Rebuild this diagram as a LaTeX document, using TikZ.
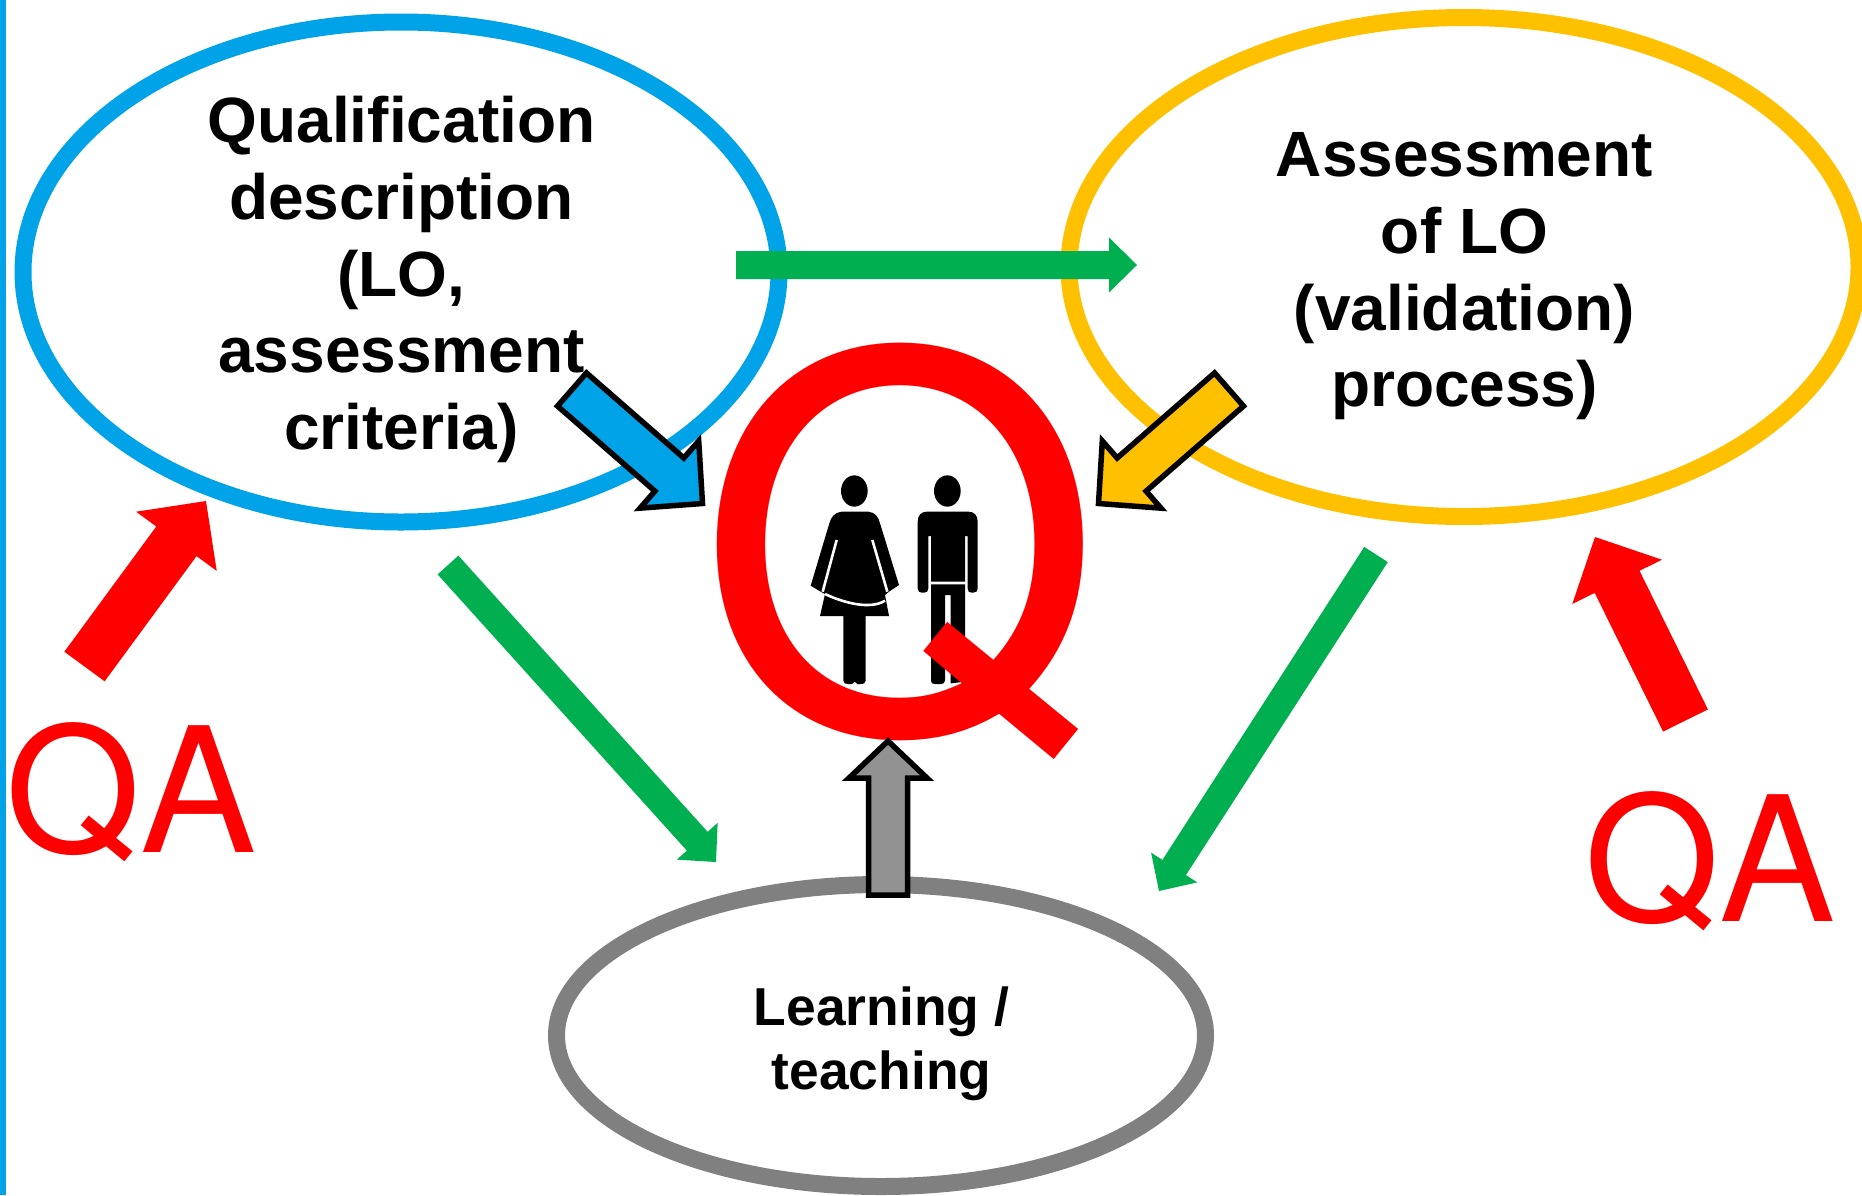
\documentclass[tikz,border=0pt]{standalone}
\usepackage{fontspec}
\setmainfont{Liberation Sans}
\newfontfamily\qfont{TeX Gyre Heros}
\usetikzlibrary{shapes.geometric,calc}
\definecolor{cblue}{HTML}{00A3E8}
\definecolor{cgold}{HTML}{FFC000}
\definecolor{cgreen}{HTML}{00B050}
\definecolor{cred}{HTML}{FF0000}
\definecolor{cgrey}{HTML}{808080}
\definecolor{cgreyfill}{HTML}{929292}
\tikzset{
  bubble/.style={ellipse,draw=#1,line width=8.5pt,outer sep=0pt,inner sep=0pt},
  bigtext/.style={font=\fontsize{32}{38.3}\selectfont\bfseries,align=center,inner sep=0pt},
  smalltext/.style={font=\fontsize{26.7}{32}\selectfont\bfseries,align=center,inner sep=0pt},
  qatext/.style={font=\qfont\fontsize{87}{87}\selectfont,text=cred,inner sep=0pt,outer sep=0pt,anchor=base west},
  bigq/.style={font=\qfont\fontsize{260}{260}\selectfont,text=cred,inner sep=0pt,outer sep=0pt,anchor=base west},
  greenarrow/.style={fill=cgreen},
  redarrow/.style={fill=cred},
  outlined/.style={fill=#1,draw=black,line width=2.75pt,miter limit=10},
}
% style, from, to, half shaft, half head, head length
\newcommand{\blockarrow}[6]{%
  \coordinate (ab) at ($(#3)!#6!(#2)$);
  \path[#1] ($(#2)!#4!90:(#3)$) -- ($(ab)!#4!90:(#3)$) -- ($(ab)!#5!90:(#3)$) -- (#3)
    -- ($(ab)!#5!-90:(#3)$) -- ($(ab)!#4!-90:(#3)$) -- ($(#2)!#4!-90:(#3)$) -- cycle;
}
\begin{document}
\begin{tikzpicture}[x=0.5pt,y=-0.5pt]
\useasboundingbox (0,0) rectangle (1862,1195);
\fill[white] (0,0) rectangle (1862,1195);
\fill[cblue] (0,0) rectangle (6,1195);

\node[bubble=cblue,minimum width=378pt,minimum height=250pt] (qual) at (401,272) {};
\node[bubble=cgold,minimum width=395pt,minimum height=249.5pt] (assess) at (1464,267) {};
\node[bubble=cgrey,minimum width=324.5pt,minimum height=151pt] (learn) at (881,1035.5) {};
\node[bigtext] (qualtext) at (401.5,279.5)
  {Qualification\\description\\(LO,\\assessment\\criteria)};
\node[bigtext] (assesstext) at (1464.5,276.5)
  {Assessment\\of LO\\(validation)\\process)};
\node[smalltext] (learntext) at (881.5,1044)
  {Learning /\\teaching};

% people
\begin{scope}[shift={(700,320)},x=0.16667pt,y=-0.16667pt]
  \fill[black] (463,513) ellipse [x radius=40,y radius=47];
  \fill[black] (742,513) ellipse [x radius=40,y radius=47];
  % woman
  \fill[black] (425,575) -- (505,575) .. controls (525,577) and (535,590) .. (540,610)
    -- (597,795) -- (567,815) -- (555,825) -- (567,888) -- (497,888) -- (497,1082)
    .. controls (497,1090) and (490,1092) .. (480,1092) -- (472,1092) -- (464,1085) -- (456,1092) -- (445,1092)
    .. controls (436,1092) and (430,1090) .. (430,1082)
    -- (430,888) -- (360,888) -- (375,822) -- (362,815) -- (332,797) -- (388,610)
    .. controls (393,590) and (405,577) .. (425,575) -- cycle;
  \draw[white,line width=1.3pt] (517,660) -- (562,815);
  \draw[white,line width=1.3pt] (410,660) -- (368,815);
  \draw[white,line width=1.3pt] (375,822) .. controls (430,848) and (510,870) .. (555,842);
  % man
  \fill[black] (653,805) -- (653,605) .. controls (653,585) and (665,575) .. (680,575) -- (805,575)
    .. controls (822,575) and (833,585) .. (833,605) -- (833,805)
    .. controls (833,814) and (828,818) .. (820,818) -- (815,818)
    .. controls (807,818) and (803,814) .. (803,805) -- (803,648) -- (795,648) -- (795,785)
    -- (693,785) -- (693,648) -- (685,648) -- (685,805)
    .. controls (685,814) and (680,818) .. (672,818) -- (666,818)
    .. controls (658,818) and (653,814) .. (653,805) -- cycle;
  \fill[black] (693,793) -- (795,793) -- (795,1085) -- (752,1090) -- (752,825) -- (735,825)
    -- (735,1082) .. controls (735,1090) and (728,1092) .. (722,1092) -- (705,1092)
    .. controls (697,1092) and (693,1090) .. (693,1082) -- cycle;
\end{scope}

\node[bigq] (bigQ) at (697,731) {Q};
\node[qatext] (qaleft) at (5,852) {QA};
\node[qatext] (qaright) at (1584,921) {QA};

\coordinate (g1a) at (736,265);  \coordinate (g1b) at (1137,265);
\coordinate (g2a) at (448,565);  \coordinate (g2b) at (716,862);
\coordinate (g3a) at (1376,554.5); \coordinate (g3b) at (1159,891);
\coordinate (r1a) at (84.5,666.5); \coordinate (r1b) at (206,501);
\coordinate (r2a) at (1685.5,720.5); \coordinate (r2b) at (1595,537);
\coordinate (b1a) at (572,389.5); \coordinate (b1b) at (702.5,503.5);
\coordinate (o1a) at (1229,389.5); \coordinate (o1b) at (1098.5,503.5);
\coordinate (k1a) at (888,895);  \coordinate (k1b) at (888,741);

\blockarrow{greenarrow}{g1a}{g1b}{7pt}{13.75pt}{14pt}
\blockarrow{greenarrow}{g2a}{g2b}{7pt}{13.75pt}{14pt}
\blockarrow{greenarrow}{g3a}{g3b}{7pt}{13.75pt}{14pt}
\blockarrow{redarrow}{r1a}{r1b}{12.5pt}{25pt}{25pt}
\blockarrow{redarrow}{r2a}{r2b}{12.5pt}{25pt}{25pt}
\blockarrow{outlined=cblue}{b1a}{b1b}{11pt}{22.3pt}{22pt}
\blockarrow{outlined=cgold}{o1a}{o1b}{11pt}{22.3pt}{22pt}
\blockarrow{outlined=cgreyfill}{k1a}{k1b}{9.75pt}{19.5pt}{18.5pt}
\end{tikzpicture}
\end{document}
